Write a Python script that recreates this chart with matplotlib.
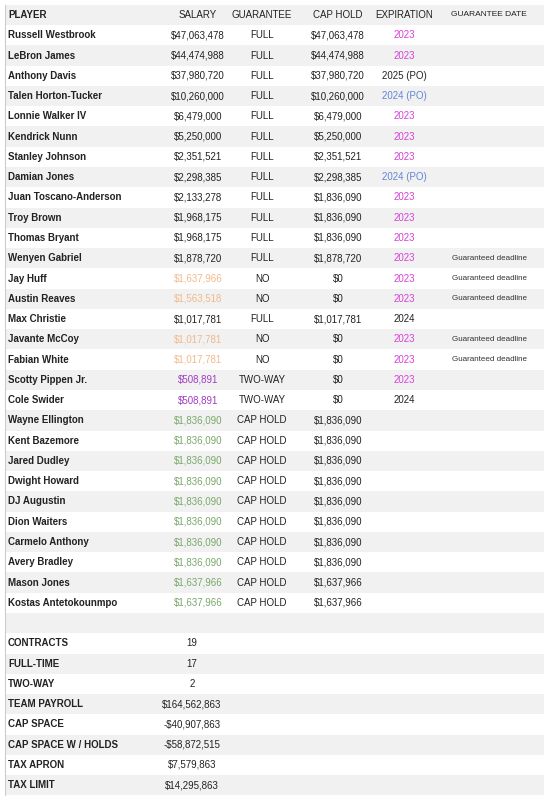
import matplotlib
matplotlib.use("Agg")
import matplotlib.pyplot as plt
from matplotlib.patches import Rectangle

headers = ["PLAYER", "SALARY", "GUARANTEE", "CAP HOLD", "EXPIRATION", "GUARANTEE DATE"]
players = ["Russell Westbrook", "LeBron James", "Anthony Davis", "Talen Horton-Tucker", "Lonnie Walker IV",
           "Kendrick Nunn", "Stanley Johnson", "Damian Jones", "Juan Toscano-Anderson", "Troy Brown",
           "Thomas Bryant", "Wenyen Gabriel", "Jay Huff", "Austin Reaves", "Max Christie",
           "Javante McCoy", "Fabian White", "Scotty Pippen Jr.", "Cole Swider", "Wayne Ellington",
           "Kent Bazemore", "Jared Dudley", "Dwight Howard", "DJ Augustin", "Dion Waiters",
           "Carmelo Anthony", "Avery Bradley", "Mason Jones", "Kostas Antetokounmpo"]
salaries = [47063478, 44474988, 37980720, 10260000, 6479000, 5250000, 2351521, 2298385, 2133278,
            1968175, 1968175, 1878720, 1637966, 1563518, 1017781, 1017781, 1017781, 508891, 508891,
            1836090, 1836090, 1836090, 1836090, 1836090, 1836090, 1836090, 1836090, 1637966, 1637966]
guarantee = ["FULL"] * 12 + ["NO", "NO", "FULL", "NO", "NO", "TWO-WAY", "TWO-WAY"] + ["CAP HOLD"] * 10
cap_hold = [47063478, 44474988, 37980720, 10260000, 6479000, 5250000, 2351521, 2298385, 1836090,
            1836090, 1836090, 1878720, 0, 0, 1017781, 0, 0, 0, 0,
            1836090, 1836090, 1836090, 1836090, 1836090, 1836090, 1836090, 1836090, 1637966, 1637966]
expiration = ["2023", "2023", "2025 (PO)", "2024 (PO)", "2023", "2023", "2023", "2024 (PO)", "2023",
              "2023", "2023", "2023", "2023", "2023", "2024", "2023", "2023", "2023", "2024"] + [""] * 10
guarantee_date = [""] * 11 + ["Guaranteed deadline"] * 3 + [""] + ["Guaranteed deadline"] * 2 + [""] * 12

summary_labels = ["CONTRACTS", "FULL-TIME", "TWO-WAY", "TEAM PAYROLL", "CAP SPACE",
                  "CAP SPACE W / HOLDS", "TAX APRON", "TAX LIMIT"]
summary_values = ["19", "17", "2", "$164,562,863", "-$40,907,863", "-$58,872,515", "$7,579,863", "$14,295,863"]

PINK, BLUE, ORANGE, PURPLE, GREEN, DARK = "#d93fd9", "#5f86d6", "#f2b98a", "#a23bc4", "#78a86a", "#222222"

def money(v):
    return "$" + f"{v:,}"

fig = plt.figure(figsize=(5.44, 8), dpi=100)
ax = fig.add_axes([0, 0, 1, 1])
ax.set_xlim(0, 544)
ax.set_ylim(800, 0)
ax.axis("off")

y0, dy = 15, 20.27
fs = 7.0
nrows = 1 + len(players) + 1 + len(summary_labels)
for i in range(nrows):
    y = y0 + i * dy
    if i % 2 == 0:
        ax.add_patch(Rectangle((5, y - dy / 2), 539, dy, color="#f1f1f1", lw=0, zorder=0))
ax.plot([5, 5], [y0 - dy / 2, y0 + (nrows - 0.5) * dy], color="#cccccc", lw=0.8)

cols = [(8, "left"), (198, "center"), (262, "center"), (338, "center"), (404, "center"), (489, "center")]
for (x, ha), h in zip(cols, headers):
    ax.text(x, y0, h, ha=ha, va="center", fontsize=fs if h != "GUARANTEE DATE" else 6.0,
            color=DARK, family="Liberation Sans", fontweight="bold" if h == "PLAYER" else "normal")

for i, p in enumerate(players):
    y = y0 + (i + 1) * dy
    g = guarantee[i]
    sc = {"NO": ORANGE, "TWO-WAY": PURPLE, "CAP HOLD": GREEN}.get(g, DARK)
    ex = expiration[i]
    ec = PINK if ex == "2023" else (BLUE if ex == "2024 (PO)" else DARK)
    ax.text(8, y, p, ha="left", va="center", fontsize=fs, color=DARK, fontweight="bold", family="Liberation Sans")
    ax.text(198, y, money(salaries[i]), ha="center", va="center", fontsize=fs, color=sc, family="Liberation Sans")
    ax.text(262, y, g, ha="center", va="center", fontsize=fs, color=DARK, family="Liberation Sans")
    ax.text(338, y, money(cap_hold[i]), ha="center", va="center", fontsize=fs, color=DARK, family="Liberation Sans")
    ax.text(404, y, ex, ha="center", va="center", fontsize=fs, color=ec, family="Liberation Sans")
    ax.text(489, y, guarantee_date[i], ha="center", va="center", fontsize=5.8, color="#333333", family="Liberation Sans")

base = 1 + len(players) + 1
for j, (lab, val) in enumerate(zip(summary_labels, summary_values)):
    y = y0 + (base + j) * dy
    ax.text(8, y, lab, ha="left", va="center", fontsize=fs, color=DARK, fontweight="bold", family="Liberation Sans")
    ax.text(192, y, val, ha="center", va="center", fontsize=fs, color=DARK, family="Liberation Sans")

fig.savefig("out.png", dpi=100, facecolor="white")
